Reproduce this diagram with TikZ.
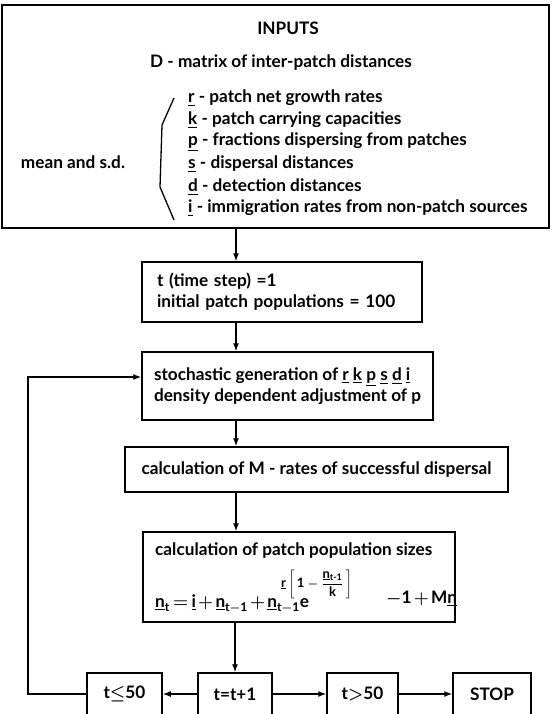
\documentclass[tikz,border=0pt]{standalone}
\usepackage{fontspec}
\usepackage{amsmath}
\setmainfont{Lato}
\usetikzlibrary{arrows.meta}
\begin{document}
\begin{tikzpicture}[x=1pt,y=-1pt,
  every node/.style={font=\fontsize{17.2}{21}\selectfont\bfseries\mathversion{bold}},
  box/.style={draw, line width=1.5pt, inner sep=0pt},
  arr/.style={line width=1.4pt, -{Latex[length=8pt,width=6pt]}},
  lbl/.style={inner sep=0pt}]
\useasboundingbox (0,0) rectangle (551,714);

% INPUTS box
\node[box, minimum width=547pt, minimum height=223pt] (inputs) at (275.5,116.5) {};
\node[lbl] (title) at (288,28) {INPUTS};
\node[lbl] (dmat) at (281,63) {D - matrix of inter-patch distances};
\node[lbl] (msd) at (73,162) {mean and s.d.};
\node[lbl, anchor=west] (ir) at (188,98) {\underline{r} - patch net growth rates};
\node[lbl, anchor=west] (ik) at (188,120) {\underline{k} - patch carrying capacities};
\node[lbl, anchor=west] (ip) at (188,142) {\underline{p} - fractions dispersing from patches};
\node[lbl, anchor=west] (is) at (188,164) {\underline{s} - dispersal distances};
\node[lbl, anchor=west] (id) at (188,187) {\underline{d} - detection distances};
\node[lbl, anchor=west] (ii) at (188,208) {\underline{i} - immigration rates from non-patch sources};
\draw[line width=1.3pt] (174,98) -- (162,125) -- (160,187) -- (174,220);

% process boxes
\node[box, minimum width=280pt, minimum height=60pt, text width=250pt, align=left] (b2) at (282,292)
  {t (time step) =1\\ initial patch populations = 100};
\node[box, minimum width=291pt, minimum height=68pt, align=left] (b3) at (287.5,386)
  {stochastic generation of \underline{r} \underline{k} \underline{p} \underline{s} \underline{d} \underline{i}\\ density dependent adjustment of p};
\node[box, minimum width=383pt, minimum height=45pt, align=center] (b4) at (316.5,469.5)
  {calculation of M - rates of successful dispersal};
\node[box, minimum width=312pt, minimum height=90pt] (b5) at (299,577) {};
\node[lbl, anchor=west] (b5t) at (155,551) {calculation of patch population sizes};
\node[lbl, anchor=base west] (f1) at (155,607)
  {\thickmuskip=3mu\medmuskip=2mu$\text{\underline{n}}_{\text{t}}=\text{\underline{i}}+\text{\underline{n}}_{\text{t}-\text{1}}+\text{\underline{n}}_{\text{t}-\text{1}}\text{e}$};
\node[lbl, anchor=west, font=\fontsize{13}{15}\selectfont\bfseries\mathversion{bold}] (f2) at (281,584)
  {$\text{\underline{r}}\left[\,\text{1}-\dfrac{\text{\underline{n}}_{\text{t-1}}}{\text{k}}\,\right]$};
\node[lbl, anchor=base west] (f3) at (386,603) {\medmuskip=2mu$-\text{1}+\text{M\underline{n}}$};

% bottom row
\node[box, minimum width=75pt, minimum height=42pt] (le) at (124.5,694) {t$\leq$50};
\node[box, minimum width=74pt, minimum height=42pt] (tt) at (235,694) {t=t+1};
\node[box, minimum width=71pt, minimum height=42pt] (gt) at (362.5,694) {t$>$50};
\node[box, minimum width=78pt, minimum height=42pt] (stop) at (492,694) {STOP};

% connectors
\coordinate (ax) at (236,0);
\coordinate (lp) at (28,694);
\draw[arr] (inputs.south -| ax) -- (b2.north -| ax);
\draw[arr] (b2.south -| ax) -- (b3.north -| ax);
\draw[arr] (b3.south -| ax) -- (b4.north -| ax);
\draw[arr] (b4.south -| ax) -- (b5.north -| ax);
\draw[arr] (b5.south -| tt) -- (tt.north);
\draw[arr] (tt.west) -- (le.east);
\draw[arr] (tt.east) -- (gt.west);
\draw[arr] (gt.east) -- (stop.west);
\draw[arr] (le.west) -- (lp) |- ([yshift=9pt]b3.west);
\end{tikzpicture}
\end{document}
